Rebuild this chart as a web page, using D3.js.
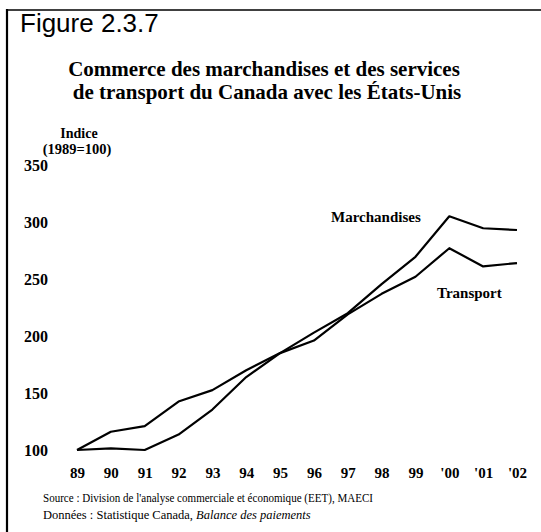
<!DOCTYPE html>
<html>
<head>
<meta charset="utf-8">
<script src="https://cdn.jsdelivr.net/npm/d3@7/dist/d3.min.js"></script>
<style>
  html, body { margin: 0; padding: 0; background: #fff; }
  svg { display: block; }
</style>
</head>
<body>
<svg id="chart" width="541" height="532"></svg>
<script>
// ---- Data ----
const years = ["89", "90", "91", "92", "93", "94", "95", "96", "97", "98", "99", "'00", "'01", "'02"];
const marchandises = [100, 101.5, 100, 113.5, 135.5, 164, 185, 203, 220, 245.5, 269.5, 305, 294.5, 293];
const transport = [100, 116, 121, 142.5, 152.5, 170, 185, 196, 219, 237, 252, 277, 261, 264];
const yTicks = [100, 150, 200, 250, 300, 350];

const svg = d3.select("#chart");
const serif = "'Liberation Serif', 'Times New Roman', serif";
const sans = "'Liberation Sans', Arial, sans-serif";

// frame
svg.append("line").attr("x1", 7).attr("x2", 7).attr("y1", 9).attr("y2", 532)
  .attr("stroke", "#000").attr("stroke-width", 2.2);
svg.append("line").attr("x1", 6).attr("x2", 541).attr("y1", 10).attr("y2", 10)
  .attr("stroke", "#000").attr("stroke-width", 1.5);

// figure label
svg.append("text").attr("x", 20).attr("y", 32)
  .attr("font-family", sans).attr("font-size", 26).attr("fill", "#000")
  .text("Figure 2.3.7");

// title
const title = svg.append("text").attr("font-family", serif).attr("font-weight", "bold")
  .attr("font-size", 21).attr("text-anchor", "middle").attr("fill", "#000");
title.append("tspan").attr("x", 264).attr("y", 76).text("Commerce des marchandises et des services");
title.append("tspan").attr("x", 267).attr("y", 99).text("de transport du Canada avec les États-Unis");

// axis title
const at = svg.append("text").attr("font-family", serif).attr("font-weight", "bold")
  .attr("text-anchor", "middle").attr("fill", "#000");
at.append("tspan").attr("x", 79).attr("y", 138).attr("font-size", 14).text("Indice");
at.append("tspan").attr("x", 77).attr("y", 154).attr("font-size", 14.5).text("(1989=100)");

// scales
const x = d3.scalePoint().domain(years).range([77, 517]);
const y = d3.scaleLinear().domain([100, 350]).range([450, 165]);

// y axis labels
const yAxis = svg.append("g").attr("transform", "translate(48,0)")
  .call(d3.axisLeft(y).tickValues(yTicks).tickSize(0).tickPadding(0).tickFormat(d3.format("d")));
yAxis.select(".domain").remove();
yAxis.selectAll("text").attr("font-family", serif).attr("font-weight", "bold")
  .attr("font-size", 16).attr("fill", "#000").attr("dy", "0.35em");

// x axis labels
const xAxis = svg.append("g").attr("transform", "translate(0,478)")
  .call(d3.axisBottom(x).tickSize(0).tickPadding(0));
xAxis.select(".domain").remove();
xAxis.selectAll("text").attr("y", 0).attr("dy", 0).attr("font-family", serif)
  .attr("font-weight", "bold").attr("font-size", 15).attr("fill", "#000");

// lines
const line = d3.line().x((d, i) => x(years[i])).y(d => y(d));
[transport, marchandises].forEach(s => {
  svg.append("path").datum(s).attr("d", line).attr("fill", "none")
    .attr("stroke", "#000").attr("stroke-width", 2.2).attr("stroke-linejoin", "round");
});

// series labels
svg.append("text").attr("x", 331).attr("y", 222).attr("font-family", serif)
  .attr("font-weight", "bold").attr("font-size", 15).attr("fill", "#000").text("Marchandises");
svg.append("text").attr("x", 437).attr("y", 298).attr("font-family", serif)
  .attr("font-weight", "bold").attr("font-size", 15).attr("fill", "#000").text("Transport");

// source
svg.append("text").attr("font-family", serif).attr("font-size", 12.5).attr("fill", "#000")
  .attr("x", 43).attr("y", 502).attr("textLength", 330).attr("lengthAdjust", "spacingAndGlyphs")
  .text("Source : Division de l'analyse commerciale et économique (EET), MAECI");
const src2 = svg.append("text").attr("font-family", serif).attr("font-size", 12.5).attr("fill", "#000")
  .attr("x", 43).attr("y", 519);
src2.append("tspan").text("Données : Statistique Canada, ");
src2.append("tspan").attr("font-style", "italic").text("Balance des paiements");
</script>
</body>
</html>
